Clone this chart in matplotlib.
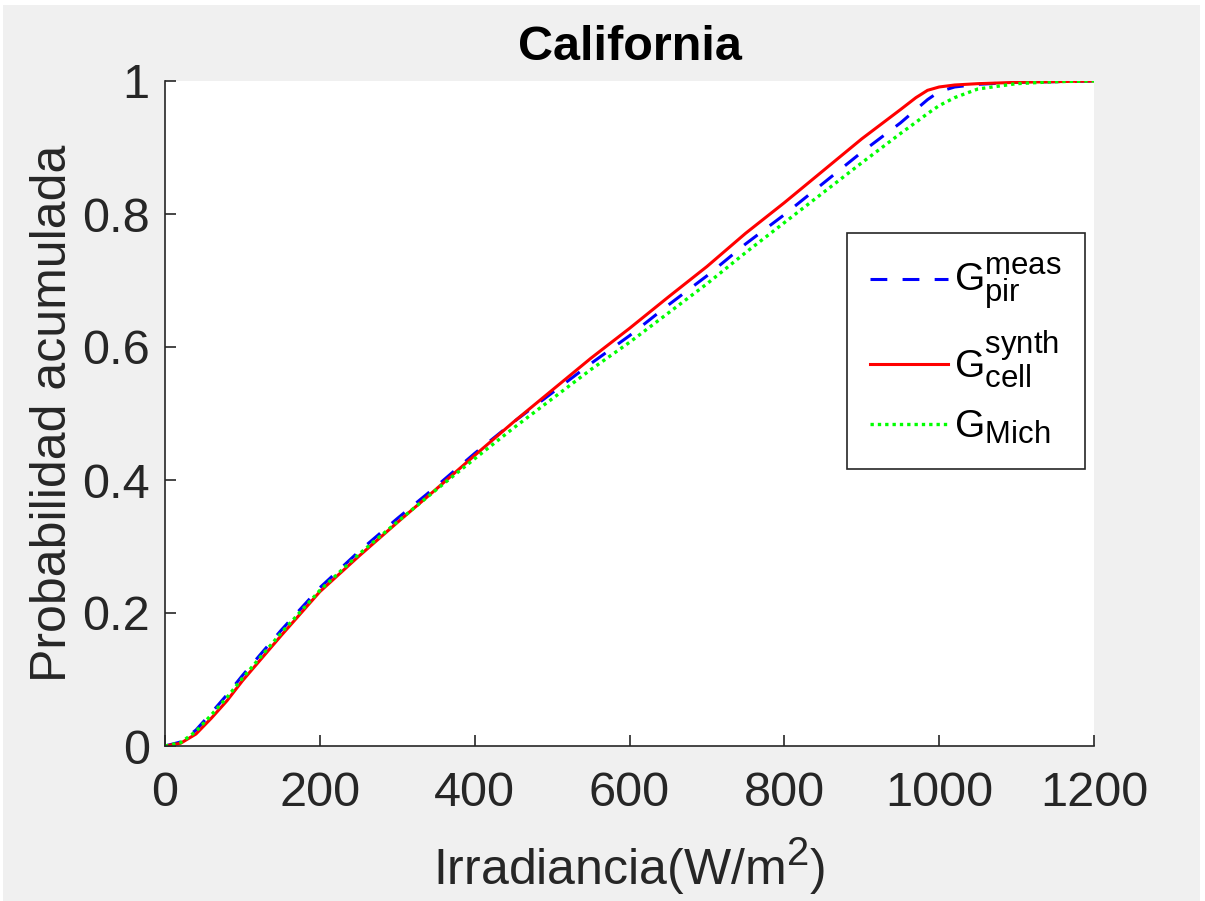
import matplotlib
matplotlib.use("Agg")
import matplotlib.pyplot as plt
import matplotlib._mathtext as mathtext_impl
from matplotlib.patches import Rectangle

# Irradiance grid (W/m^2) and cumulative probabilities for each source
irradiance = [0, 20, 40, 60, 80, 100, 150, 200, 250, 300, 350, 400, 450, 500,
              550, 600, 650, 700, 750, 800, 850, 900, 950, 970, 985, 1000,
              1020, 1050, 1100, 1150, 1200]

g_pir_meas = [0, 0.006, 0.024, 0.050, 0.077, 0.106, 0.174, 0.238, 0.292, 0.342,
              0.390, 0.440, 0.487, 0.531, 0.575, 0.617, 0.663, 0.707, 0.755,
              0.799, 0.846, 0.893, 0.937, 0.957, 0.972, 0.984, 0.991, 0.995,
              0.998, 0.999, 1.0]

g_cell_synth = [0, 0.004, 0.018, 0.042, 0.068, 0.098, 0.166, 0.232, 0.285,
                0.336, 0.386, 0.437, 0.487, 0.535, 0.583, 0.628, 0.675, 0.721,
                0.771, 0.817, 0.865, 0.913, 0.957, 0.975, 0.986, 0.991, 0.994,
                0.996, 0.998, 0.999, 1.0]

g_mich = [0, 0.005, 0.022, 0.047, 0.073, 0.102, 0.170, 0.234, 0.288, 0.337,
          0.385, 0.432, 0.478, 0.522, 0.566, 0.607, 0.651, 0.695, 0.742, 0.787,
          0.832, 0.877, 0.921, 0.938, 0.951, 0.963, 0.975, 0.988, 0.996, 0.999,
          1.0]

x_ticks = [0, 200, 400, 600, 800, 1000, 1200]
y_ticks = [0, 0.2, 0.4, 0.6, 0.8, 1.0]
y_tick_labels = ["0", "0.2", "0.4", "0.6", "0.8", "1"]

labels = [r"$\mathregular{G^{meas}_{pir}}$",
          r"$\mathregular{G^{synth}_{cell}}$",
          r"$\mathregular{G_{Mich}}$"]

plt.rcParams["font.family"] = ["Liberation Sans", "DejaVu Sans"]
plt.rcParams["mathtext.fontset"] = "custom"
plt.rcParams["mathtext.rm"] = "Liberation Sans"
# larger super/subscripts, closer to TeX-style legend labels
mathtext_impl.SHRINK_FACTOR = 0.8

W, H = 1205, 901
fig = plt.figure(figsize=(W / 100, H / 100), dpi=100, facecolor="white")
fig.patches.append(Rectangle((3 / W, 0), (W - 8) / W, (H - 5) / H,
                             transform=fig.transFigure, facecolor="#f0f0f0",
                             edgecolor="none", zorder=-10))

ax = fig.add_axes([165 / W, 1 - 746 / H, (1094 - 165) / W, (746 - 81) / H])
ax.set_facecolor("white")

ax.plot(irradiance, g_pir_meas, color=(0, 0, 1), linestyle=(0, (5.5, 5)),
        linewidth=2.2, label=labels[0])
ax.plot(irradiance, g_cell_synth, color=(1, 0, 0), linestyle="-",
        linewidth=2.2, label=labels[1])
ax.plot(irradiance, g_mich, color=(0, 1, 0), linestyle=(0, (1, 1.2)),
        linewidth=2.4, label=labels[2])

ax.set_xlim(0, 1200)
ax.set_ylim(0, 1)
ax.set_xticks(x_ticks)
ax.set_yticks(y_ticks)
ax.set_yticklabels(y_tick_labels)

for side in ("top", "right"):
    ax.spines[side].set_visible(False)
for side in ("left", "bottom"):
    ax.spines[side].set_color("#262626")
    ax.spines[side].set_linewidth(1.2)

ax.tick_params(axis="both", direction="in", length=8, width=1.2,
               colors="#262626", labelsize=35)
ax.tick_params(axis="x", pad=18)
ax.tick_params(axis="y", pad=11)

ax.set_xlabel(r"Irradiancia(W/m$\mathregular{^2}$)", fontsize=36,
              color="#262626", labelpad=14)
ax.set_ylabel("Probabilidad acumulada", fontsize=36, color="#262626",
              labelpad=4)
ax.set_title("California", fontsize=35, fontweight="bold", color="black",
             pad=15)

leg = ax.legend(loc="upper left", bbox_to_anchor=((847 - 165) / (1094 - 165),
                                                  1 - (233 - 81) / (746 - 81)),
                fontsize=28, frameon=True, fancybox=False, framealpha=1,
                edgecolor="#262626", handlelength=2.0, handletextpad=0.15,
                labelspacing=0.45, borderpad=0.6, borderaxespad=0)
leg.get_frame().set_linewidth(1.2)

fig.savefig("out.png", dpi=100, facecolor=fig.get_facecolor())
